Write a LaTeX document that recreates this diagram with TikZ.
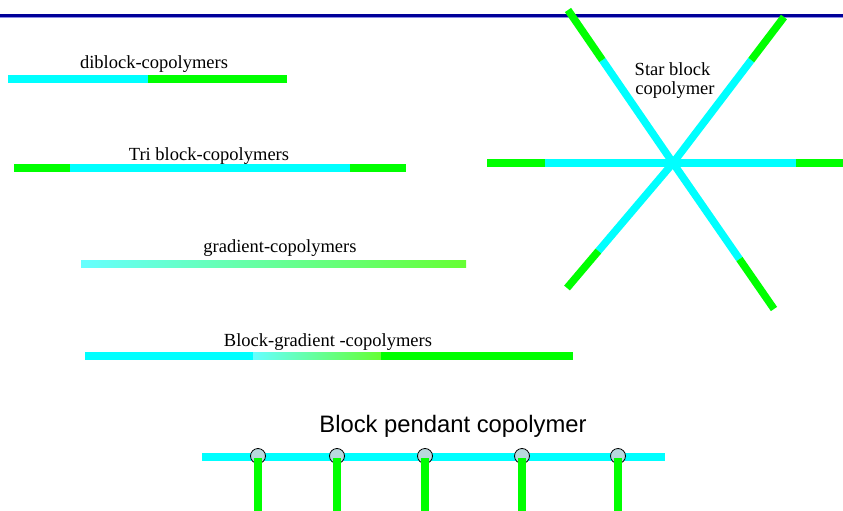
\documentclass[tikz,border=0pt]{standalone}
\usepackage{fontspec}
\usetikzlibrary{calc}
\setmainfont{Liberation Serif}
\newfontfamily\arialf{Liberation Sans}
\definecolor{cy}{HTML}{00FFFF}
\definecolor{gr}{HTML}{00FF00}
\definecolor{gcy}{HTML}{66FFFF}
\definecolor{ggr}{HTML}{66FF33}
\definecolor{navy}{HTML}{000099}
\definecolor{lnavy}{HTML}{8C8CE6}
\definecolor{bead}{HTML}{B8D8DC}
\begin{document}
\begin{tikzpicture}[x=1pt,y=-1pt,
  bar/.style={line width=7.5pt},
  cbar/.style={bar,cy},
  gbar/.style={bar,gr},
  lbl/.style={inner sep=0pt,anchor=base,font=\fontsize{18.5}{21}\selectfont},
  slbl/.style={inner sep=0pt,anchor=base,font=\arialf\fontsize{23.8}{27}\selectfont},
  beadst/.style={circle,draw=black,line width=0.8pt,fill=bead,minimum size=15pt,inner sep=0pt}]
\useasboundingbox (0,0) rectangle (843,511);
% top rule
\draw[navy,line width=3.3pt] (0,15.7) -- (843,15.7);
\draw[lnavy,line width=1pt] (0,18) -- (843,18);

% diblock
\coordinate (d1) at (8,79); \coordinate (d2) at (148,79); \coordinate (d3) at (287,79);
\draw[cbar] (d1) -- (d2);
\draw[gbar] (d2) -- (d3);
\node[lbl] (tdi) at (154,69) {diblock-copolymers};

% triblock
\coordinate (t1) at (14,168); \coordinate (t2) at (70,168);
\coordinate (t3) at (350,168); \coordinate (t4) at (406,168);
\draw[gbar] (t1) -- (t2);
\draw[cbar] (t2) -- (t3);
\draw[gbar] (t3) -- (t4);
\node[lbl] (ttri) at (209,160) {Tri block-copolymers};

% gradient
\shade[left color=gcy,right color=ggr] (81,260.3) rectangle (466,267.7);
\node[lbl] (tgrad) at (280,252.5) {gradient-copolymers};

% block-gradient
\coordinate (b1) at (85,356); \coordinate (b2) at (253,356);
\coordinate (b3) at (381,356); \coordinate (b4) at (573,356);
\draw[cbar] (b1) -- (b2);
\shade[left color=gcy,right color=ggr] (253,352.3) rectangle (381,359.7);
\draw[gbar] (b3) -- (b4);
\node[lbl] (tbg) at (328,346.5) {Block-gradient -copolymers};

% star
\coordinate (c) at (673,163);
\coordinate (ule) at (568,10);
\coordinate (ure) at (784,17);
\coordinate (lle) at (567,288);
\coordinate (lre) at (774,309);
\coordinate (le) at (487,163);
\coordinate (re) at (843,163);
\coordinate (ulm) at ($(c)!0.673!(ule)$);
\coordinate (urm) at ($(c)!0.705!(ure)$);
\coordinate (llm) at ($(c)!0.704!(lle)$);
\coordinate (lrm) at ($(c)!0.658!(lre)$);
\coordinate (lm) at (545,163);
\coordinate (rm) at (796,163);
\foreach \m in {ulm,urm,llm,lrm,lm,rm} \draw[cbar] (c) -- (\m);
\draw[gbar] (ulm) -- (ule);
\draw[gbar] (urm) -- (ure);
\draw[gbar] (llm) -- (lle);
\draw[gbar] (lrm) -- (lre);
\draw[gbar] (lm) -- (le);
\draw[gbar] (rm) -- (re);
\node[lbl] (tstar1) at (672.5,75) {Star block};
\node[lbl] (tstar2) at (675,95) {copolymer};

% pendant
\node[slbl] (tpend) at (453,432) {Block pendant copolymer};
\coordinate (p1) at (202,457); \coordinate (p2) at (665,457);
\draw[cy,line width=8pt] (p1) -- (p2);
\foreach \i/\x in {1/258,2/337,3/425,4/522,5/618}{
  \node[beadst] (bead\i) at (\x,456) {};
  \coordinate (pe\i) at (\x,511);
  \draw[gbar] (bead\i.center) ++(0,2) -- (pe\i);
}
\end{tikzpicture}
\end{document}
